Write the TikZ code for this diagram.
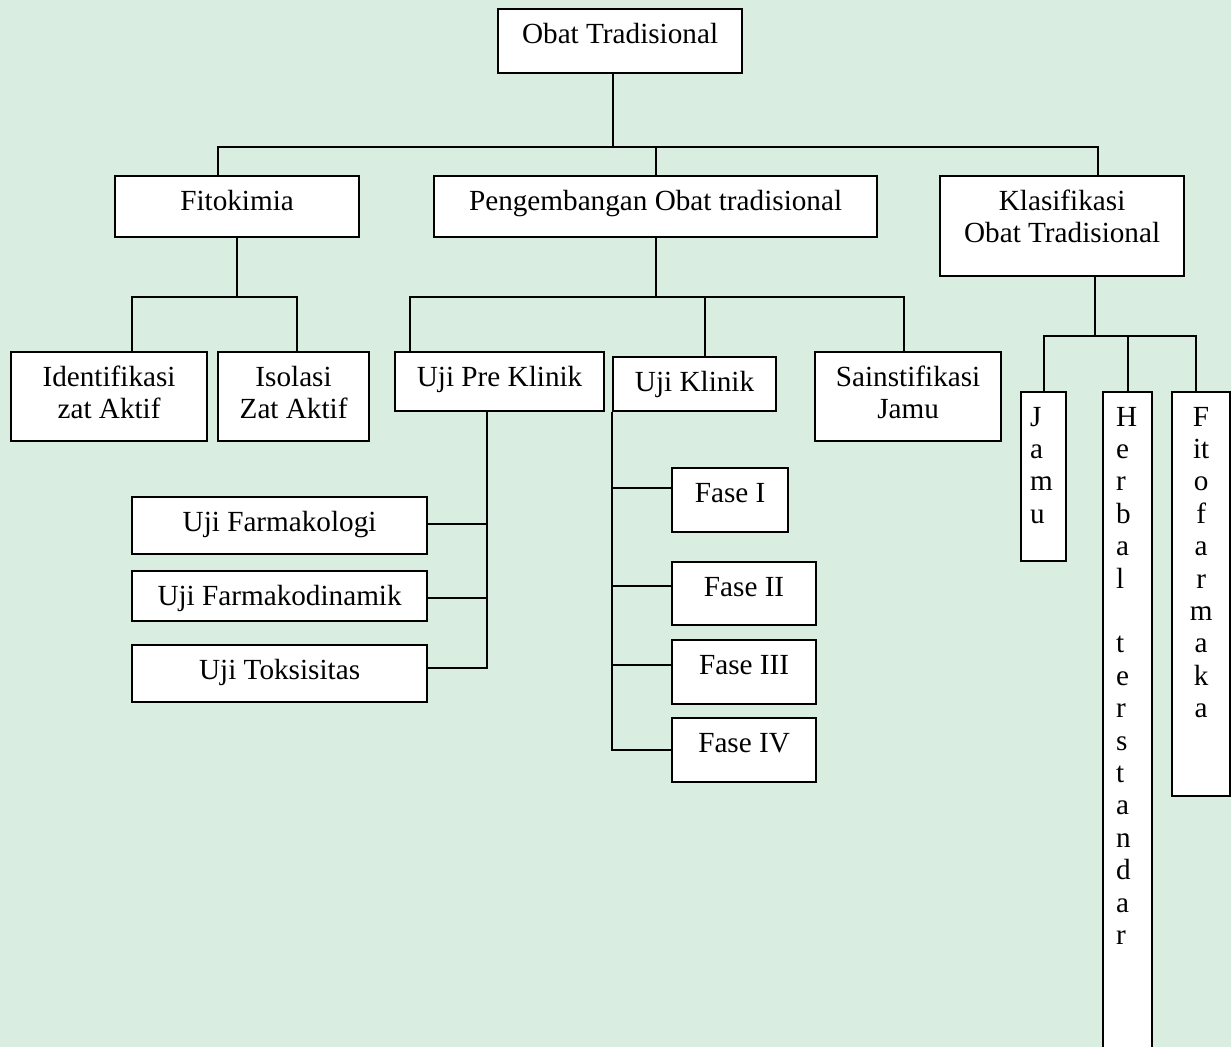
\documentclass[tikz,border=0pt]{standalone}
\usepackage{fontspec}
\setmainfont{Liberation Serif}
\definecolor{pagegreen}{HTML}{D9EDE0}
\newdimen\unitpx
\unitpx=0.5pt
% Fixed-size box content with the text set from the top.
\newcommand{\boxtext}[4][\centering]{\parbox[c][#3\unitpx][t]{#2\unitpx}{#1\vspace*{5.7pt}\strut #4}}

\begin{document}
\begin{tikzpicture}[
  x=0.5pt,
  y=-0.5pt,
  font=\fontsize{14.6}{16.2}\selectfont,
  box/.style={draw, fill=white, line width=1.1pt, inner sep=0pt, anchor=north west},
  link/.style={draw, line width=1.1pt}
]
  \useasboundingbox (0,0) rectangle (1231,1047);
  \fill[pagegreen] (0,0) rectangle (1231,1047);

  % Root and second level.
  \node[box] (obat) at (497,8) {\boxtext{244}{64}{Obat Tradisional}};
  \node[box] (fito) at (114,175) {\boxtext{244}{61}{Fitokimia}};
  \node[box] (peng) at (433,175) {\boxtext{443}{61}{Pengembangan Obat tradisional}};
  \node[box] (klas) at (939,175) {\boxtext{244}{100}{Klasifikasi\\Obat Tradisional}};

  % Third level.
  \node[box] (ident) at (10,351) {\boxtext{196}{89}{Identifikasi\\zat Aktif}};
  \node[box] (isol) at (217,351) {\boxtext{151}{89}{Isolasi\\Zat Aktif}};
  \node[box] (preklinik) at (394,351) {\boxtext{209}{59}{Uji Pre Klinik}};
  \node[box] (klinik) at (612,356) {\boxtext{163}{54}{Uji Klinik}};
  \node[box] (sains) at (814,351) {\boxtext{186}{89}{Sainstifikasi\\Jamu}};

  % Narrow upright boxes of the classification.
  \node[box] (jamu) at (1020,391) {\boxtext[\raggedright\leftskip=4.5pt]{45}{169}{J\\a\\m\\u}};
  \node[box] (herbal) at (1102,391) {\boxtext[\raggedright\leftskip=6.5pt]{49}{700}{H\\e\\r\\b\\a\\l\\[16.2pt]t\\e\\r\\s\\t\\a\\n\\d\\a\\r}};
  \node[box] (fitof) at (1171,391) {\boxtext{58}{404}{F\\it\\o\\f\\a\\r\\m\\a\\k\\a}};

  % Pre-clinical tests.
  \node[box] (farmakologi) at (131,496) {\boxtext{295}{57}{Uji Farmakologi}};
  \node[box] (dinamik) at (131,570) {\boxtext{295}{50}{Uji Farmakodinamik}};
  \node[box] (toksik) at (131,644) {\boxtext{295}{57}{Uji Toksisitas}};

  % Clinical phases.
  \node[box] (fase1) at (671,467) {\boxtext{116}{64}{Fase I}};
  \node[box] (fase2) at (671,561) {\boxtext{144}{63}{Fase II}};
  \node[box] (fase3) at (671,639) {\boxtext{144}{64}{Fase III}};
  \node[box] (fase4) at (671,717) {\boxtext{144}{64}{Fase IV}};

  % Elbow connectors.
  \foreach \c/\s in {fito/-9.5pt, peng/0pt, klas/18pt}
    \draw[link] ([xshift=-3.5pt]obat.south) -- ++(0,73) -| ([xshift=\s]\c.north);
  \foreach \c/\s in {ident/11.5pt, isol/1.75pt}
    \draw[link] (fito.south) -- ++(0,59) -| ([xshift=\s]\c.north);
  \foreach \c/\s in {preklinik/-45pt, klinik/5pt, sains/-2pt}
    \draw[link] (peng.south) -- ++(0,59) -| ([xshift=\s]\c.north);
  \foreach \c/\s in {jamu/0pt, herbal/0pt, fitof/-2.5pt}
    \draw[link] ([xshift=16.5pt]klas.south) -- ++(0,59) -| ([xshift=\s]\c.north);

  % Side spines.
  \foreach \t/\d in {farmakologi/0.75pt, dinamik/-1pt, toksik/2.75pt}
    \draw[link] ([xshift=-6.25pt]preklinik.south) |- ([yshift=\d]\t.east);
  \foreach \f/\d in {fase1/6pt, fase2/3.75pt, fase3/3.5pt, fase4/0pt}
    \draw[link] (klinik.south west) |- ([yshift=\d]\f.west);
\end{tikzpicture}
\end{document}
